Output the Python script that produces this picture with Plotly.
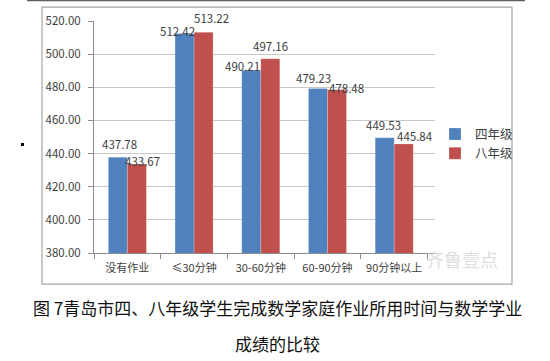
import plotly.graph_objects as go

categories = ["没有作业", "≤30分钟", "30-60分钟", "60-90分钟", "90分钟以上"]
grade4 = [437.78, 512.42, 490.21, 479.23, 449.53]
grade8 = [433.67, 513.22, 497.16, 478.48, 445.84]
series_names = ["四年级", "八年级"]
yticks = [380, 400, 420, 440, 460, 480, 500, 520]

# label nudges in pixels (style only, mimic the spreadsheet's label placement)
nudge4 = [(2, 13), (-7, 3), (-8, 4), (-4, 11), (-1, 13)]
nudge8 = [(5, 3), (8, 14), (0, 13), (9, 2), (11, 8)]

FONT = "Noto Sans CJK SC"
COLORS = ["#4F81BD", "#C0504D"]
HALF = 9.8  # half bar width in px

fig = go.Figure()
for name, vals, col in [(series_names[0], grade4, COLORS[0]), (series_names[1], grade8, COLORS[1])]:
    fig.add_trace(go.Bar(
        x=categories, y=vals, name=name,
        marker=dict(color=col, line=dict(color="rgba(255,255,255,0.35)", width=0.6)),
    ))

for vals, nudges, side in [(grade4, nudge4, -1), (grade8, nudge8, 1)]:
    for c, v, (dx, dy) in zip(categories, vals, nudges):
        fig.add_annotation(x=c, y=v, xref="x", yref="y", text=f"{v:.2f}",
                           showarrow=False, xanchor="center", yanchor="middle",
                           xshift=side * HALF + dx, yshift=dy,
                           font=dict(size=11.5, color="#404040", family=FONT))

fig.update_layout(
    width=550, height=361,
    margin=dict(l=94, r=115, t=21, b=108),
    paper_bgcolor="white", plot_bgcolor="white",
    barmode="group", bargap=0.43, bargroupgap=0,
    font=dict(family=FONT, size=11, color="#404040"),
    showlegend=True,
    legend=dict(x=1.0, y=0.47, xanchor="left", yanchor="middle",
                font=dict(size=12.5, color="#404040", family=FONT),
                tracegroupgap=4, itemwidth=30, bgcolor="rgba(0,0,0,0)"),
    xaxis=dict(type="category", tickson="boundaries", ticks="outside", ticklen=5,
               tickcolor="#8c8c8c", showline=True, linecolor="#8c8c8c",
               tickangle=0, automargin=False, ticklabelstandoff=5,
               showgrid=False, tickfont=dict(size=11, color="#404040")),
    yaxis=dict(range=[380, 520], tickvals=yticks,
               ticktext=[f"{v:.2f}" for v in yticks],
               ticks="outside", ticklen=5, tickcolor="#8c8c8c",
               ticklabelstandoff=5, automargin=False,
               showline=True, linecolor="#8c8c8c",
               gridcolor="#c8c8c8", gridwidth=1,
               tickfont=dict(size=11.5, color="#404040")),
)

# chart frame
fig.add_shape(type="rect", xref="paper", yref="paper",
              x0=-0.1525, x1=1.2258, y0=-0.134, y1=1.060,
              line=dict(color="#a6a6a6", width=1.2), layer="below")
# top page line
fig.add_shape(type="line", xref="paper", yref="paper",
              x0=(27-94)/341, x1=(525-94)/341, y0=(253-0.5)/232, y1=(253-0.5)/232,
              line=dict(color="#606060", width=1.5))
# small bullet
fig.add_shape(type="rect", xref="paper", yref="paper",
              x0=(21-94)/341, x1=(24-94)/341, y0=(253-143)/232, y1=(253-146)/232,
              fillcolor="black", line=dict(width=0))

# watermark
fig.add_annotation(xref="paper", yref="paper", x=(500-94)/341, y=(253-274)/232,
                   text="齐鲁壹点", showarrow=False,
                   font=dict(size=18, color="rgba(200,200,200,0.6)", family=FONT))

# caption
fig.add_annotation(xref="paper", yref="paper", x=(277-94)/341, y=(253-307)/232,
                   text="图 7青岛市四、八年级学生完成数学家庭作业所用时间与数学学业",
                   showarrow=False, font=dict(size=17, color="#111111", family=FONT),
                   xanchor="center", yanchor="middle")
fig.add_annotation(xref="paper", yref="paper", x=(277-94)/341, y=(253-343)/232,
                   text="成绩的比较",
                   showarrow=False, font=dict(size=17, color="#111111", family=FONT),
                   xanchor="center", yanchor="middle")

fig.write_html("out.html", config={"displayModeBar": False},
               post_script="document.body.style.margin='0px';")
